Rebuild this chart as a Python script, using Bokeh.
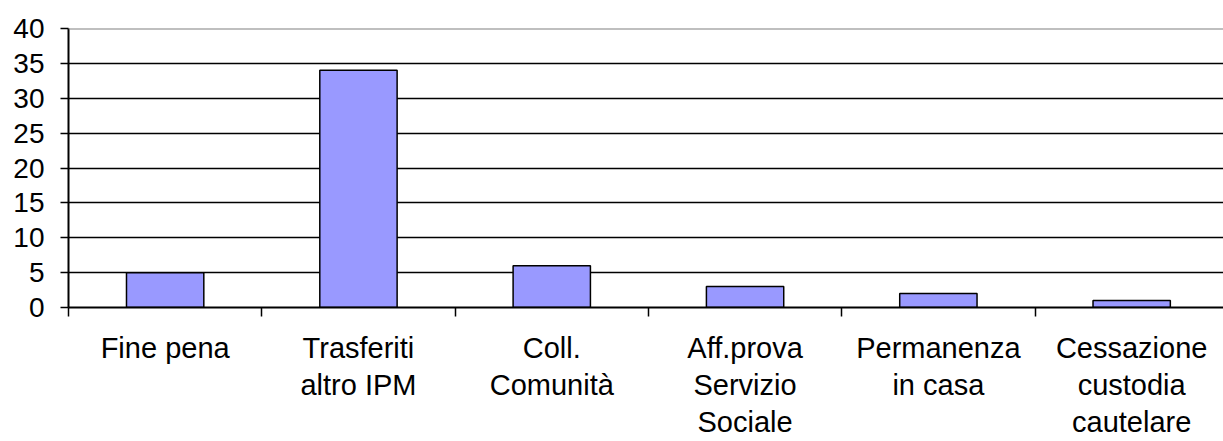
from bokeh.plotting import figure
from bokeh.models import Range1d, FixedTicker, Span
from bokeh.embed import file_html
from bokeh.resources import INLINE

categories = ["Fine pena", "Trasferiti\naltro IPM", "Coll.\nComunità",
              "Aff.prova\nServizio\nSociale", "Permanenza\nin casa",
              "Cessazione\ncustodia\ncautelare"]
values = [5, 34, 6, 3, 2, 1]
y_ticks = [0, 5, 10, 15, 20, 25, 30, 35, 40]

n = len(categories)
xs = list(range(n))
bounds = [i - 0.5 for i in range(n + 1)]

FONT = "Liberation Sans"

p = figure(width=1223, height=441, output_backend="svg", toolbar_location=None,
           x_range=Range1d(-0.5, n - 0.525), y_range=Range1d(y_ticks[0], y_ticks[-1]),
           min_border_left=68, min_border_right=0, min_border_top=28, min_border_bottom=134)

p.outline_line_color = None
p.background_fill_color = "white"
p.border_fill_color = "white"

p.xgrid.visible = False
p.ygrid.ticker = FixedTicker(ticks=y_ticks[1:-1])
p.ygrid.grid_line_color = "black"
p.ygrid.grid_line_width = 1.3

p.add_layout(Span(location=y_ticks[-1], dimension="width", line_color="#808080", line_width=2))

p.vbar(x=xs, top=values, width=0.4, bottom=0, fill_color="#9999FF",
       line_color="black", line_width=1.5)

# y axis
p.yaxis.ticker = FixedTicker(ticks=y_ticks)
p.yaxis.axis_line_color = "black"
p.yaxis.axis_line_width = 2
p.yaxis.major_tick_line_color = "black"
p.yaxis.major_tick_line_width = 1.5
p.yaxis.major_tick_out = 8
p.yaxis.major_tick_in = 0
p.yaxis.minor_tick_line_color = None
p.yaxis.major_label_standoff = 16
p.yaxis.major_label_text_font = FONT
p.yaxis.major_label_text_font_size = "28px"
p.yaxis.major_label_text_color = "black"

# x axis
p.xaxis.ticker = FixedTicker(ticks=xs, minor_ticks=bounds)
p.xaxis.major_label_overrides = {i: c for i, c in zip(xs, categories)}
p.xaxis.axis_line_color = "black"
p.xaxis.axis_line_width = 2
p.xaxis.major_tick_line_color = None
p.xaxis.major_tick_out = 0
p.xaxis.major_tick_in = 0
p.xaxis.minor_tick_line_color = "black"
p.xaxis.minor_tick_line_width = 1.5
p.xaxis.minor_tick_out = 9
p.xaxis.minor_tick_in = 0
p.xaxis.major_label_standoff = 15
p.xaxis.major_label_text_font = FONT
p.xaxis.major_label_text_font_size = "29px"
p.xaxis.major_label_text_color = "black"
p.xaxis.major_label_text_line_height = 1.17

open("out.html", "w").write(file_html(p, INLINE))
